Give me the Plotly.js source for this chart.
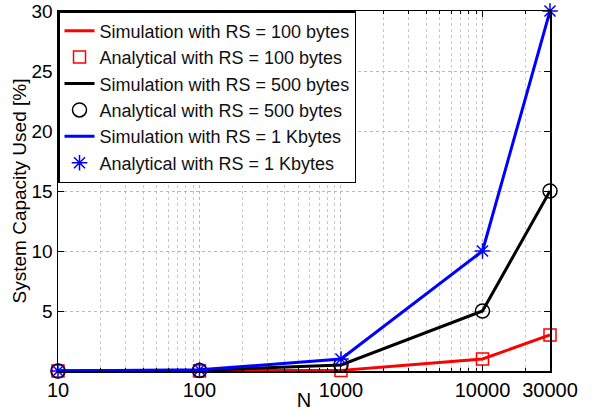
<!DOCTYPE html>
<html>
<head>
<meta charset="utf-8">
<script src="https://cdn.plot.ly/plotly-3.0.1.min.js"></script>
<style>
html,body{margin:0;padding:0;background:#fff;}
#chart{width:592px;height:411px;}
</style>
</head>
<body>
<div id="chart"></div>
<script>
const N = [10, 100, 1000, 10000, 30000];
const rs100 = [0, 0.01, 0.05, 1, 3];
const rs500 = [0, 0.05, 0.5, 5, 15];
const rs1k = [0, 0.1, 1, 10, 30];
const xTickVals = [10, 100, 1000, 10000, 30000];
const xTickText = ['10', '100', '1000', '10000', '30000'];
const yTickVals = [0, 5, 10, 15, 20, 25, 30];
const yTickText = ['', '5', '10', '15', '20', '25', '30'];

const FONT = 'Liberation Sans, Arial, Helvetica, sans-serif';

function lineTrace(y, color, name) {
  return {x: N, y: y, mode: 'lines', name: name, line: {color: color, width: 3}, cliponaxis: false};
}
function markTrace(y, color, symbol, size, name) {
  return {x: N, y: y, mode: 'markers', name: name, cliponaxis: false,
    marker: {symbol: symbol, size: size, color: color, line: {color: color, width: 1.5}}};
}

const data = [
  lineTrace(rs100, '#ff0000', 'Simulation with RS = 100 bytes'),
  markTrace(rs100, '#ff0000', 'square-open', 12, 'Analytical with RS = 100 bytes'),
  lineTrace(rs500, '#000000', 'Simulation with RS = 500 bytes'),
  markTrace(rs500, '#000000', 'circle-open', 14, 'Analytical with RS = 500 bytes'),
  lineTrace(rs1k, '#0000ff', 'Simulation with RS = 1 Kbytes'),
  markTrace(rs1k, '#0000ff', 'asterisk-open', 13, 'Analytical with RS = 1 Kbytes')
];

const layout = {
  width: 592, height: 411,
  margin: {l: 58, r: 42, t: 11, b: 40},
  paper_bgcolor: '#fff', plot_bgcolor: '#fff',
  font: {family: FONT, size: 19, color: '#000'},
  showlegend: true,
  legend: {x: 0, y: 1, xanchor: 'left', yanchor: 'top', bgcolor: '#fff',
    bordercolor: '#000', borderwidth: 1.5, font: {family: FONT, size: 18, color: '#111'},
    itemwidth: 30, tracegroupgap: 0},
  xaxis: {
    type: 'log', range: [1, Math.log10(30000)],
    tickmode: 'array', tickvals: xTickVals, ticktext: xTickText,
    ticks: 'inside', ticklen: 6, tickcolor: '#000',
    showline: true, linecolor: '#000', linewidth: 1.5, mirror: 'ticks',
    showgrid: true, gridcolor: '#b8b8b8', griddash: 'dot', gridwidth: 1,
    minor: {dtick: 'D1', ticks: 'inside', ticklen: 3, tickcolor: '#000',
      showgrid: true, gridcolor: '#c8c8c8', griddash: 'dot', gridwidth: 1},
    zeroline: false,
    tickfont: {family: FONT, size: 20, color: '#000'},
    title: {text: 'N', font: {family: FONT, size: 20, color: '#000'}, standoff: 0}
  },
  yaxis: {
    range: [0, 30],
    tickmode: 'array', tickvals: yTickVals, ticktext: yTickText,
    ticks: 'inside', ticklen: 6, tickcolor: '#000',
    showline: true, linecolor: '#000', linewidth: 1.5, mirror: 'ticks',
    showgrid: true, gridcolor: '#b8b8b8', griddash: 'dot', gridwidth: 1,
    zeroline: false,
    tickfont: {family: FONT, size: 19, color: '#000'},
    title: {text: 'System Capacity Used [%]', font: {family: FONT, size: 19, color: '#000'}, standoff: 0}
  }
};

Plotly.newPlot('chart', data, layout, {staticPlot: true, displayModeBar: false});
</script>
</body>
</html>
